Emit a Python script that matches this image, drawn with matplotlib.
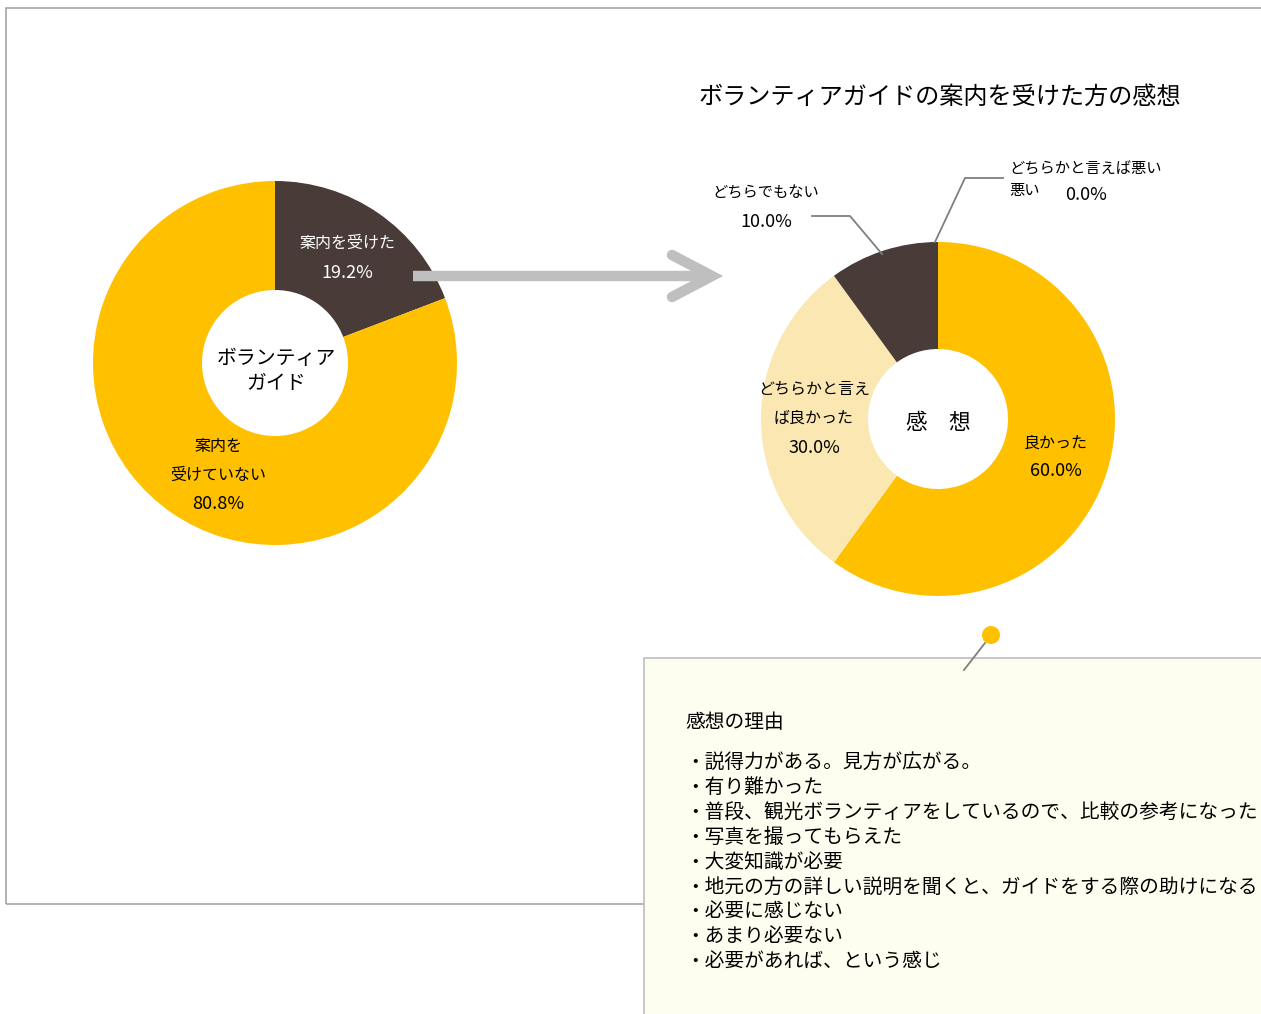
import matplotlib
matplotlib.use("Agg")
import matplotlib.pyplot as plt
from matplotlib.patches import Rectangle, Circle

plt.rcParams['font.family'] = ['Noto Sans CJK JP', 'DejaVu Sans']

# data
guide_labels = ['案内を受けた', '案内を受けていない']
guide_values = [19.2, 80.8]
impression_labels = ['良かった', 'どちらかと言えば良かった', 'どちらでもない', '悪い']
impression_values = [60.0, 30.0, 10.0, 0.0]
reasons = ['説得力がある。見方が広がる。',
           '有り難かった',
           '普段、観光ボランティアをしているので、比較の参考になった',
           '写真を撮ってもらえた',
           '大変知識が必要',
           '地元の方の詳しい説明を聞くと、ガイドをする際の助けになる',
           '必要に感じない',
           'あまり必要ない',
           '必要があれば、という感じ']

YELLOW = '#ffc000'
DARK = '#483b38'
LIGHT = '#fbe7b2'
GRAY = '#bfbfbf'

W, H = 1261, 1014
fig = plt.figure(figsize=(W / 100, H / 100), dpi=100)
ax = fig.add_axes([0, 0, 1, 1])


def Y(py):
    # pixel row -> data y (y axis points up)
    return H - py


# outer frame and note box
ax.add_patch(Rectangle((6, Y(904)), 1300, 896, fill=False, ec='#a6a6a6', lw=1.2))
ax.add_patch(Rectangle((644, Y(1030)), 700, 372, fc='#fefef0', ec='#bdbdbd', lw=1.2, zorder=3))

# left donut
ax.pie(guide_values, colors=[DARK, YELLOW], startangle=90, counterclock=False,
       center=(275, Y(363)), radius=182, frame=True,
       wedgeprops=dict(width=182 - 73, linewidth=0))
ax.text(347, Y(243), guide_labels[0], color='white', fontsize=11.5, ha='center', va='center')
ax.text(347, Y(273), '%.1f%%' % guide_values[0], color='white', fontsize=13, ha='center', va='center')
ax.text(218, Y(447), '案内を', fontsize=11.5, ha='center', va='center')
ax.text(218, Y(475), '受けていない', fontsize=11.5, ha='center', va='center')
ax.text(218, Y(504), '%.1f%%' % guide_values[1], fontsize=13, ha='center', va='center')
ax.text(276, Y(358), 'ボランティア', fontsize=14.3, ha='center', va='center')
ax.text(276, Y(384), 'ガイド', fontsize=14.3, ha='center', va='center')

# arrow
ax.plot([413, 708], [Y(276), Y(276)], color=GRAY, lw=7.5, solid_capstyle='butt')
ax.plot([672, 712, 672], [Y(255), Y(276), Y(297)], color=GRAY, lw=7.5,
        solid_capstyle='round', solid_joinstyle='miter')

# right donut
ax.text(940, Y(97), 'ボランティアガイドの案内を受けた方の感想', fontsize=17.4, ha='center', va='center')
ax.pie(impression_values, colors=[YELLOW, LIGHT, DARK, DARK], startangle=90, counterclock=False,
       center=(938, Y(419)), radius=177, frame=True,
       wedgeprops=dict(width=177 - 70, linewidth=0))
ax.text(938, Y(423), '感　想', fontsize=15.5, ha='center', va='center')

ax.text(1056, Y(443), impression_labels[0], fontsize=11.5, ha='center', va='center')
ax.text(1056, Y(471), '%.1f%%' % impression_values[0], fontsize=13, ha='center', va='center')
ax.text(814, Y(389), 'どちらかと言え', fontsize=11.5, ha='center', va='center')
ax.text(814, Y(418), 'ば良かった', fontsize=11.5, ha='center', va='center')
ax.text(814, Y(448), '%.1f%%' % impression_values[1], fontsize=13, ha='center', va='center')
ax.text(766, Y(193), impression_labels[2], fontsize=11, ha='center', va='center')
ax.text(766, Y(222), '%.1f%%' % impression_values[2], fontsize=13, ha='center', va='center')
ax.text(1009, Y(169), 'どちらかと言えば悪い', fontsize=11, ha='left', va='center')
ax.text(1009, Y(190), impression_labels[3], fontsize=11, ha='left', va='center')
ax.text(1065, Y(195), '%.1f%%' % impression_values[3], fontsize=13, ha='left', va='center')

# leader lines
ax.plot([812, 850, 882], [Y(216), Y(216), Y(254)], color='#7f7f7f', lw=1.3)
ax.plot([935, 965, 1003], [Y(242), Y(178), Y(178)], color='#7f7f7f', lw=1.3)

# pin on the note
ax.plot([985, 964], [Y(643), Y(670)], color='#7f7f7f', lw=1.3, zorder=4)
ax.add_patch(Circle((991, Y(635)), 9, fc=YELLOW, ec='none', zorder=5))

# note text
ax.text(685, Y(722), '感想の理由', fontsize=14.2, ha='left', va='center', zorder=6)
for i, r in enumerate(reasons):
    ax.text(685, Y(762 + 25 * i), '・' + r, fontsize=14.2, ha='left', va='center', zorder=6)

ax.set_xlim(0, W)
ax.set_ylim(0, H)
ax.set_aspect('equal')
ax.axis('off')
fig.savefig('out.png', dpi=100)
